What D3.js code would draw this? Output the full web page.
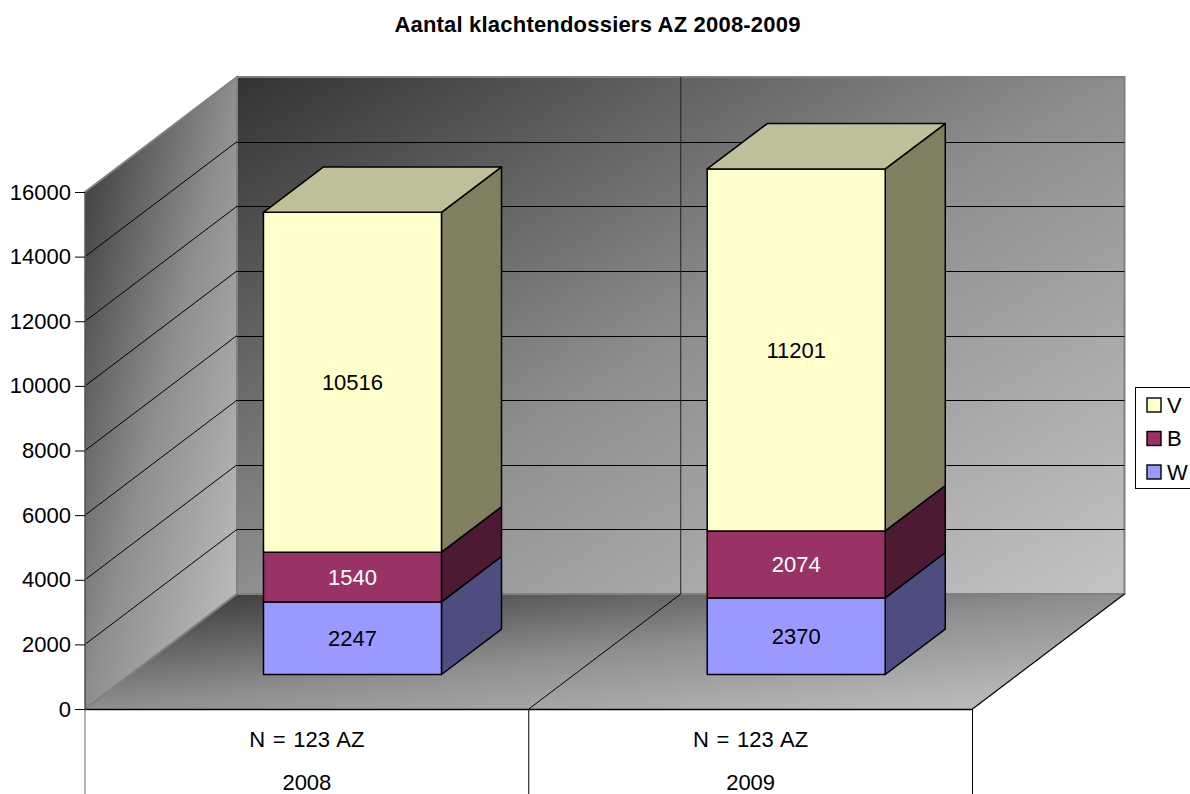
<!DOCTYPE html>
<html><head><meta charset="utf-8">
<script src="https://cdn.jsdelivr.net/npm/d3@7/dist/d3.min.js"></script>
<style>html,body{margin:0;padding:0;background:#fff}svg{display:block}text{font-family:"Liberation Sans",Arial,sans-serif;fill:#000}</style>
</head><body><svg id="c" width="1190" height="794"></svg>
<script>
const titleText = "Aantal klachtendossiers AZ 2008-2009";
const categories = ["2008", "2009"];
const subLabels = ["N = 123 AZ", "N = 123 AZ"];
const seriesNames = ["W", "B", "V"];
const seriesW = [2247, 2370];
const seriesB = [1540, 2074];
const seriesV = [10516, 11201];
const tickValues = [0, 2000, 4000, 6000, 8000, 10000, 12000, 14000, 16000];
const frontColors = ["#9999ff", "#993366", "#ffffcc"];
const sideColors = ["#4d4d80", "#4d1a33", "#808060"];
const labelColors = ["#000", "#fff", "#000"];
const topColor = "#bfbf99";

const W = 1190, H = 794;
const svg = d3.select("#c");
const defs = svg.append("defs");
const wallStops = [[0, "#333333"], [0.5, "#8e8e8e"], [1, "#c4c4c4"]];
function grad(id, x1, y1, x2, y2, stops) {
  const g = defs.append("linearGradient").attr("id", id).attr("gradientUnits", "userSpaceOnUse")
    .attr("x1", x1).attr("y1", y1).attr("x2", x2).attr("y2", y2);
  stops.forEach(s => g.append("stop").attr("offset", s[0]).attr("stop-color", s[1]));
}
// scales
const y = d3.scaleLinear().domain([0, 16000]).range([709, 192]);
const x = d3.scaleBand().domain(categories).range([85, 972.5]).paddingInner(0).paddingOuter(0);
const barW = 178, depthX = 152, depthY = -115;
const barZ = 0.30, barD = 0.395;
const ox = z => depthX * z, oy = z => depthY * z;
const line = d3.line();
const x0 = x.range()[0], x1 = x.range()[1];
const yMax = y(16000), y0 = y(0);

// diagonal gradient over a box: contours run parallel to the box's other diagonal
function boxGrad(id, xa, ya, xb, yb) {
  const w = xb - xa, h = yb - ya, len = Math.hypot(w, h);
  const nx = h / len, ny = w / len, d = 2 * w * h / len;
  grad(id, xa, ya, xa + nx * d, ya + ny * d, wallStops);
}
boxGrad("gWall", x0 + depthX, yMax + depthY, x1 + depthX, y0 + depthY);
boxGrad("gSide", x0, yMax + depthY, x0 + depthX, y0);
boxGrad("gFloor", x0, y0 + depthY, x1 + depthX, y0);

// walls & floor
svg.append("path").attr("fill", "url(#gWall)").attr("stroke", "#808080").attr("stroke-width", 2)
  .attr("d", line([[x0 + depthX, yMax + depthY], [x1 + depthX, yMax + depthY], [x1 + depthX, y0 + depthY], [x0 + depthX, y0 + depthY]]) + "Z");
svg.append("path").attr("fill", "url(#gSide)").attr("stroke", "#808080").attr("stroke-width", 2)
  .attr("d", line([[x0, yMax], [x0 + depthX, yMax + depthY], [x0 + depthX, y0 + depthY], [x0, y0]]) + "Z");
svg.append("path").attr("fill", "url(#gFloor)")
  .attr("d", line([[x0, y0], [x0 + depthX, y0 + depthY], [x1 + depthX, y0 + depthY], [x1, y0]]) + "Z");
svg.append("path").attr("fill", "none").attr("stroke", "#808080").attr("stroke-width", 2)
  .attr("d", line([[x0, y0], [x0 + depthX, y0 + depthY], [x1 + depthX, y0 + depthY]]));

// gridlines
const grid = svg.append("g").attr("stroke", "#000").attr("stroke-width", 1).attr("fill", "none");
tickValues.filter(t => t > 0 && t < 16000).forEach(t => {
  grid.append("path").attr("d", line([[x0, y(t)], [x0 + depthX, y(t) + depthY]]));
  const yy = Math.round(y(t) + depthY) + 0.5;
  grid.append("path").attr("d", line([[x0 + depthX, yy], [x1 + depthX, yy]]));
});
// category divider on wall and floor
categories.slice(1).forEach(c => {
  const cx = x(c);
  grid.append("path").attr("stroke", "#222").attr("d", line([[cx + depthX, yMax + depthY], [cx + depthX, y0 + depthY]]));
  grid.append("path").attr("d", line([[cx, y0], [cx + depthX, y0 + depthY]]));
});
// floor right edge and front edge
grid.append("path").attr("stroke-width", 1.2).attr("d", line([[x1, y0], [x1 + depthX, y0 + depthY]]));
grid.append("path").attr("stroke-width", 1.4).attr("d", line([[x0, y0 + .5], [x1, y0 + .5]]));

// axis
const axis = d3.axisLeft(y).tickValues(tickValues).tickSize(10).tickPadding(4).tickFormat(d3.format("d"));
const ag = svg.append("g").attr("transform", `translate(${x0},0)`).call(axis);
ag.select(".domain").attr("stroke", "#555").attr("stroke-width", 1);
ag.selectAll("line").attr("stroke", "#000").attr("stroke-width", 1);
ag.selectAll("text").attr("font-size", 22).attr("font-family", "Liberation Sans").attr("fill", "#000");

// category axis
const cat = svg.append("g");
[x0, x(categories[1]), x1].forEach((px, i) => cat.append("line")
  .attr("x1", px).attr("x2", px).attr("y1", y0).attr("y2", H)
  .attr("stroke", i === 0 ? "#666" : "#000").attr("stroke-width", 1));
categories.forEach((c, i) => {
  const cx = x(c) + x.bandwidth() / 2;
  cat.append("text").attr("x", cx).attr("y", 746.5).attr("text-anchor", "middle").attr("font-size", 22).attr("word-spacing", 1.5).text(subLabels[i]);
  cat.append("text").attr("x", cx).attr("y", 790).attr("text-anchor", "middle").attr("font-size", 22).text(c);
});

// bars
const series = [seriesW, seriesB, seriesV];
categories.forEach((c, i) => {
  const bx = x(c) + (x.bandwidth() - barW) / 2 + ox(barZ);
  let cum = 0;
  const g = svg.append("g").attr("stroke", "#000").attr("stroke-width", 1.5).attr("stroke-linejoin", "round");
  const labels = [];
  series.forEach((s, k) => {
    const yb = y(cum) + oy(barZ) + 0, yt = y(cum + s[i]) + oy(barZ);
    const dx = ox(barD), dy = oy(barD);
    g.append("path").attr("fill", sideColors[k])
      .attr("d", line([[bx + barW, yb], [bx + barW + dx, yb + dy], [bx + barW + dx, yt + dy], [bx + barW, yt]]) + "Z");
    g.append("rect").attr("x", bx).attr("y", yt).attr("width", barW).attr("height", yb - yt).attr("fill", frontColors[k]);
    if (k === series.length - 1) g.append("path").attr("fill", topColor)
      .attr("d", line([[bx, yt], [bx + dx, yt + dy], [bx + barW + dx, yt + dy], [bx + barW, yt]]) + "Z");
    labels.push({ t: s[i], x: bx + barW / 2, y: (yb + yt) / 2, fill: labelColors[k] });
    cum += s[i];
  });
  labels.forEach(l => svg.append("text").attr("x", l.x).attr("y", l.y).attr("dy", "0.35em")
    .attr("text-anchor", "middle").attr("font-size", 22).style("fill", l.fill).text(l.t));
});

// legend
const lg = svg.append("g");
lg.append("rect").attr("x", 1135.5).attr("y", 387.5).attr("width", 60).attr("height", 101)
  .attr("fill", "#fff").attr("stroke", "#000").attr("stroke-width", 1);
const legendRows = seriesNames.slice().reverse();
const legendY = d3.scalePoint().domain(legendRows).range([405, 472]);
legendRows.forEach(n => {
  const k = seriesNames.indexOf(n);
  lg.append("rect").attr("x", 1147).attr("y", legendY(n) - 7).attr("width", 14).attr("height", 14)
    .attr("fill", frontColors[k]).attr("stroke", "#000").attr("stroke-width", 1.4);
  lg.append("text").attr("x", 1167).attr("y", legendY(n)).attr("dy", "0.36em").attr("font-size", 22).text(n);
});

// title
svg.append("text").attr("x", 597.5).attr("y", 32).attr("text-anchor", "middle")
  .attr("font-size", 22).attr("font-weight", "bold").attr("letter-spacing", 0.2).text(titleText);
</script></body></html>
